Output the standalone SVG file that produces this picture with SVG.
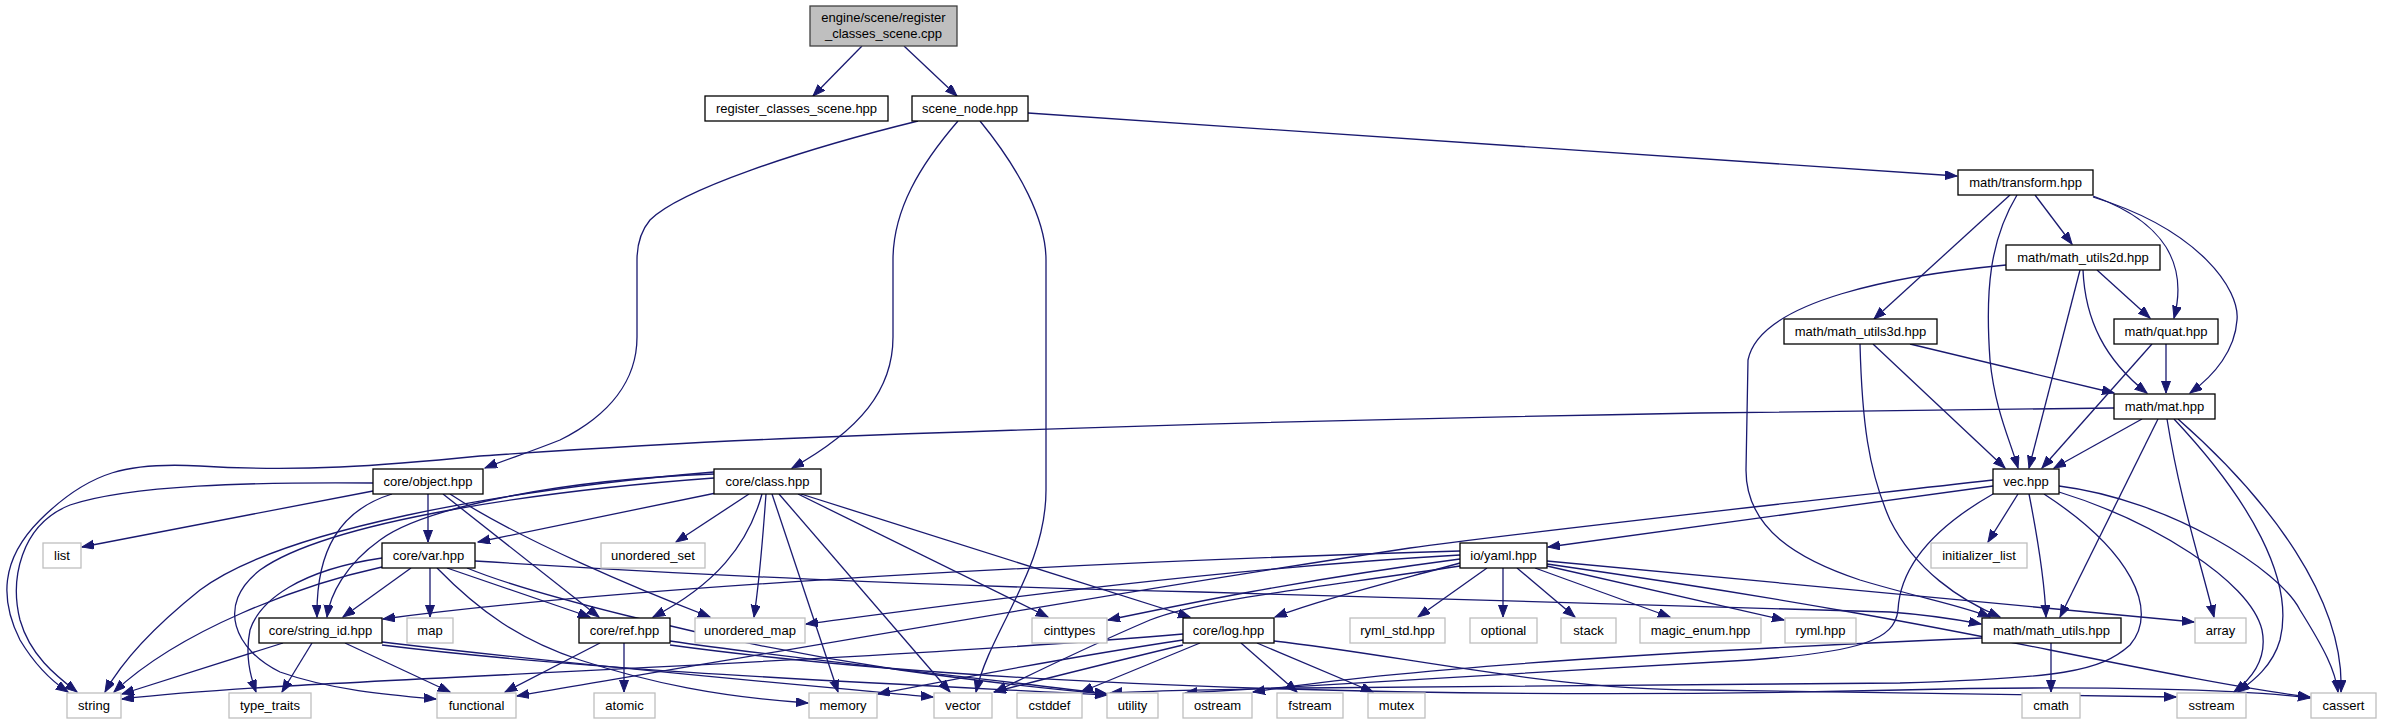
<svg xmlns="http://www.w3.org/2000/svg" width="2381" height="724" viewBox="0 0 2381 724">
<style>
.n rect{fill:#fff;stroke:#000;stroke-width:1.3}
.x rect{fill:#fff;stroke:#bfbfbf;stroke-width:1.3}
.r rect{fill:#bfbfbf;stroke:#404040;stroke-width:1.3}
text{font-family:"Liberation Sans",Arial,sans-serif;font-size:13px;text-anchor:middle;fill:#000}
#edges path{fill:none;stroke:#191970;stroke-width:1.3;marker-end:url(#a)}
</style>
<defs>
<marker id="a" markerUnits="userSpaceOnUse" markerWidth="13" markerHeight="10" refX="12" refY="4.5" orient="auto">
<path d="M0,0 L12,4.5 L0,9 z" fill="#191970" stroke="#191970" stroke-width="1"/>
</marker>
</defs>
<rect width="2381" height="724" fill="#fff"/>
<g id="edges">
<path d="M862,46 L813,96"/>
<path d="M904,46 L957,96"/>
<path d="M918,121 C800,150 680,190 650,220 C640,232 637,245 637,260 L637,337 C637,380 610,415 560,440 C530,452 505,460 485,468"/>
<path d="M958,121 C920,165 893,210 893,260 L893,337 C893,390 860,430 792,468"/>
<path d="M980,121 C1020,170 1046,220 1046,260 L1046,490 C1046,570 990,630 976,692"/>
<path d="M1028,113 L1957,176"/>
<path d="M2010,195 L1874,319"/>
<path d="M2017,195 C1990,240 1985,290 1990,360 C1995,410 2010,440 2018,468"/>
<path d="M2035,195 L2072,244"/>
<path d="M2093,196 C2165,222 2188,265 2174,318"/>
<path d="M2093,197 C2200,230 2240,290 2237,320 C2235,350 2215,375 2190,393"/>
<path d="M2006,265 C1900,275 1760,300 1748,360 L1746,470 C1746,530 1800,560 1860,580 C1920,598 1960,605 1990,617"/>
<path d="M2080,270 L2029,468"/>
<path d="M2083,270 C2085,320 2105,360 2147,393"/>
<path d="M2097,270 L2150,318"/>
<path d="M1860,344 C1862,420 1868,470 1890,520 C1915,570 1960,600 2000,617"/>
<path d="M1873,344 L2005,468"/>
<path d="M1910,344 L2114,393"/>
<path d="M2152,344 L2042,468"/>
<path d="M2166,344 L2166,393"/>
<path d="M2142,419 L2054,468"/>
<path d="M2114,408 L1700,413 C1300,420 1000,430 800,438 C650,444 540,452 480,456 C380,466 300,472 200,466 C130,462 90,470 40,520 C0,560 0,600 20,640 C35,665 50,680 68,692"/>
<path d="M2158,419 L2060,617"/>
<path d="M2167,419 C2180,500 2200,560 2214,617"/>
<path d="M2174,419 C2250,500 2295,580 2280,640 C2272,668 2250,683 2238,692"/>
<path d="M2178,419 C2270,500 2345,600 2341,692"/>
<path d="M1993,486 L1548,547"/>
<path d="M1993,480 C1700,513 1500,535 1410,548 C1100,595 800,648 517,696"/>
<path d="M2018,494 L1988,542"/>
<path d="M2029,494 C2040,550 2045,590 2046,617"/>
<path d="M2059,492 C2150,520 2250,580 2262,630 C2268,660 2250,680 2234,692"/>
<path d="M2059,486 C2170,500 2280,570 2300,610 C2325,650 2335,670 2338,692"/>
<path d="M2044,494 C2130,550 2160,610 2130,645 C2100,672 2060,678 1900,683 L1300,688 C1200,690 1140,691 1110,693"/>
<path d="M1993,494 C1930,530 1900,570 1898,610 C1895,640 1860,652 1750,660 C1500,675 1300,685 1185,693"/>
<path d="M2051,643 L2051,692"/>
<path d="M1982,638 C1700,650 1400,668 1253,692"/>
<path d="M373,491 L82,547"/>
<path d="M373,483 C250,482 130,485 70,505 C20,525 10,580 20,620 C30,655 55,675 77,692"/>
<path d="M428,494 L428,542"/>
<path d="M392,494 C340,510 316,550 317,617"/>
<path d="M443,494 L599,617"/>
<path d="M450,494 C520,540 640,590 710,617"/>
<path d="M716,493 L478,542"/>
<path d="M714,474 C550,480 420,510 380,540 C345,565 330,595 327,617"/>
<path d="M714,472 C500,490 280,530 200,590 C150,630 120,665 105,692"/>
<path d="M714,478 C550,490 330,520 260,570 C215,605 235,650 280,672 C330,690 390,695 436,699"/>
<path d="M749,494 L676,542"/>
<path d="M762,494 C748,545 715,585 653,617"/>
<path d="M766,494 C762,550 758,590 754,617"/>
<path d="M772,494 L838,692"/>
<path d="M779,494 L950,692"/>
<path d="M798,494 L1048,617"/>
<path d="M801,494 L1190,617"/>
<path d="M382,567 C300,585 180,630 114,692"/>
<path d="M382,558 C300,570 260,600 250,630 C245,655 250,675 256,692"/>
<path d="M411,568 L343,617"/>
<path d="M430,568 L430,617"/>
<path d="M447,568 L590,617"/>
<path d="M437,568 C480,612 520,640 580,660 C650,683 720,697 808,703"/>
<path d="M467,568 C520,590 700,640 900,670 C1000,684 1060,690 1107,694"/>
<path d="M475,561 C700,575 900,585 1200,592 L1890,612 C1930,615 1960,620 1981,624"/>
<path d="M283,643 L122,694"/>
<path d="M312,643 L282,692"/>
<path d="M345,643 L450,692"/>
<path d="M382,642 C600,668 800,685 933,697"/>
<path d="M382,645 C600,672 900,684 1107,695"/>
<path d="M600,643 L505,692"/>
<path d="M624,643 L624,692"/>
<path d="M670,641 C800,660 1000,680 1107,694"/>
<path d="M670,645 C1000,690 1500,700 1900,690 C2100,685 2250,690 2310,698"/>
<path d="M1183,634 C1000,650 700,665 480,676 C300,685 200,690 122,699"/>
<path d="M1183,640 C1050,660 950,680 878,694"/>
<path d="M1183,645 C1100,665 1040,680 994,692"/>
<path d="M1200,643 L1081,692"/>
<path d="M1241,643 L1297,692"/>
<path d="M1257,643 L1373,692"/>
<path d="M1274,641 C1400,655 1550,690 1700,690 L2176,697"/>
<path d="M1460,551 C1000,565 600,590 383,619"/>
<path d="M1460,555 C1200,570 950,605 806,624"/>
<path d="M1460,559 C1300,580 1180,605 1108,620"/>
<path d="M1460,563 C1380,585 1320,600 1275,617"/>
<path d="M1460,566 C1300,590 1200,600 1150,620 C1080,650 1030,675 995,692"/>
<path d="M1487,568 L1418,617"/>
<path d="M1503,568 L1503,617"/>
<path d="M1517,568 L1575,617"/>
<path d="M1535,568 L1670,617"/>
<path d="M1547,566 L1784,620"/>
<path d="M1547,561 C1800,585 2000,605 2194,622"/>
<path d="M1547,564 C1800,600 1950,630 2050,650 C2150,670 2250,690 2310,697"/>
</g>
<g id="n_cpp" class="r"><rect x="810" y="6" width="147" height="40"/><text x="883.5" y="22">engine/scene/register</text><text x="883.5" y="38">_classes_scene.cpp</text></g>
<g id="n_rcs" class="n"><rect x="705" y="96" width="183" height="25"/><text x="796.5" y="113">register_classes_scene.hpp</text></g>
<g id="n_scene_node" class="n"><rect x="912" y="96" width="116" height="25"/><text x="970" y="113">scene_node.hpp</text></g>
<g id="n_transform" class="n"><rect x="1958" y="170" width="135" height="25"/><text x="2025.5" y="187">math/transform.hpp</text></g>
<g id="n_utils2d" class="n"><rect x="2006" y="245" width="154" height="25"/><text x="2083" y="262">math/math_utils2d.hpp</text></g>
<g id="n_utils3d" class="n"><rect x="1784" y="319" width="153" height="25"/><text x="1860.5" y="336">math/math_utils3d.hpp</text></g>
<g id="n_quat" class="n"><rect x="2114" y="319" width="104" height="25"/><text x="2166" y="336">math/quat.hpp</text></g>
<g id="n_mat" class="n"><rect x="2114" y="394" width="101" height="25"/><text x="2164.5" y="411">math/mat.hpp</text></g>
<g id="n_object" class="n"><rect x="373" y="469" width="110" height="25"/><text x="428" y="486">core/object.hpp</text></g>
<g id="n_class" class="n"><rect x="714" y="469" width="107" height="25"/><text x="767.5" y="486">core/class.hpp</text></g>
<g id="n_vec" class="n"><rect x="1993" y="469" width="66" height="25"/><text x="2026" y="486">vec.hpp</text></g>
<g id="n_list" class="x"><rect x="43" y="543" width="38" height="25"/><text x="62" y="560">list</text></g>
<g id="n_var" class="n"><rect x="382" y="543" width="93" height="25"/><text x="428.5" y="560">core/var.hpp</text></g>
<g id="n_unordered_set" class="x"><rect x="601" y="543" width="104" height="25"/><text x="653" y="560">unordered_set</text></g>
<g id="n_yaml" class="n"><rect x="1460" y="543" width="87" height="25"/><text x="1503.5" y="560">io/yaml.hpp</text></g>
<g id="n_initializer_list" class="x"><rect x="1931" y="543" width="96" height="25"/><text x="1979" y="560">initializer_list</text></g>
<g id="n_string_id" class="n"><rect x="259" y="618" width="123" height="25"/><text x="320.5" y="635">core/string_id.hpp</text></g>
<g id="n_map" class="x"><rect x="407" y="618" width="46" height="25"/><text x="430" y="635">map</text></g>
<g id="n_ref" class="n"><rect x="579" y="618" width="91" height="25"/><text x="624.5" y="635">core/ref.hpp</text></g>
<g id="n_unordered_map" class="x"><rect x="695" y="618" width="110" height="25"/><text x="750" y="635">unordered_map</text></g>
<g id="n_cinttypes" class="x"><rect x="1032" y="618" width="75" height="25"/><text x="1069.5" y="635">cinttypes</text></g>
<g id="n_log" class="n"><rect x="1183" y="618" width="91" height="25"/><text x="1228.5" y="635">core/log.hpp</text></g>
<g id="n_ryml_std" class="x"><rect x="1350" y="618" width="95" height="25"/><text x="1397.5" y="635">ryml_std.hpp</text></g>
<g id="n_optional" class="x"><rect x="1470" y="618" width="67" height="25"/><text x="1503.5" y="635">optional</text></g>
<g id="n_stack" class="x"><rect x="1561" y="618" width="55" height="25"/><text x="1588.5" y="635">stack</text></g>
<g id="n_magic_enum" class="x"><rect x="1640" y="618" width="121" height="25"/><text x="1700.5" y="635">magic_enum.hpp</text></g>
<g id="n_ryml" class="x"><rect x="1785" y="618" width="71" height="25"/><text x="1820.5" y="635">ryml.hpp</text></g>
<g id="n_math_utils" class="n"><rect x="1982" y="618" width="139" height="25"/><text x="2051.5" y="635">math/math_utils.hpp</text></g>
<g id="n_array" class="x"><rect x="2195" y="618" width="51" height="25"/><text x="2220.5" y="635">array</text></g>
<g id="n_string" class="x"><rect x="67" y="693" width="54" height="25"/><text x="94" y="710">string</text></g>
<g id="n_type_traits" class="x"><rect x="229" y="693" width="82" height="25"/><text x="270" y="710">type_traits</text></g>
<g id="n_functional" class="x"><rect x="437" y="693" width="79" height="25"/><text x="476.5" y="710">functional</text></g>
<g id="n_atomic" class="x"><rect x="594" y="693" width="61" height="25"/><text x="624.5" y="710">atomic</text></g>
<g id="n_memory" class="x"><rect x="809" y="693" width="68" height="25"/><text x="843" y="710">memory</text></g>
<g id="n_vector" class="x"><rect x="934" y="693" width="58" height="25"/><text x="963" y="710">vector</text></g>
<g id="n_cstddef" class="x"><rect x="1017" y="693" width="65" height="25"/><text x="1049.5" y="710">cstddef</text></g>
<g id="n_utility" class="x"><rect x="1107" y="693" width="51" height="25"/><text x="1132.5" y="710">utility</text></g>
<g id="n_ostream" class="x"><rect x="1183" y="693" width="69" height="25"/><text x="1217.5" y="710">ostream</text></g>
<g id="n_fstream" class="x"><rect x="1277" y="693" width="66" height="25"/><text x="1310" y="710">fstream</text></g>
<g id="n_mutex" class="x"><rect x="1368" y="693" width="57" height="25"/><text x="1396.5" y="710">mutex</text></g>
<g id="n_cmath" class="x"><rect x="2022" y="693" width="58" height="25"/><text x="2051" y="710">cmath</text></g>
<g id="n_sstream" class="x"><rect x="2177" y="693" width="69" height="25"/><text x="2211.5" y="710">sstream</text></g>
<g id="n_cassert" class="x"><rect x="2311" y="693" width="65" height="25"/><text x="2343.5" y="710">cassert</text></g>
</svg>
